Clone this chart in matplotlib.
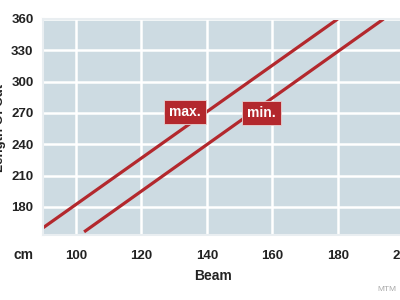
import matplotlib
matplotlib.use("Agg")
import matplotlib.pyplot as plt

plt.rcParams['font.family'] = ['Liberation Sans', 'DejaVu Sans']

# beam (cm) vs length of cut, two limit lines
max_beam = [90, 180]
max_len = [160, 360]
min_beam = [102.5, 194]
min_len = [156, 360]

xticks = [100, 120, 140, 160, 180, 200]
yticks = [180, 210, 240, 270, 300, 330, 360]

red = '#b3282d'
bg = '#cddbe2'
txt = '#222222'

fig = plt.figure(figsize=(4, 3), dpi=100)
fig.patch.set_facecolor('white')
ax = fig.add_axes([0.108, 0.2167, 0.9, 0.72])
ax.set_facecolor(bg)

ax.set_xlim(90, 200)
ax.set_ylim(153, 360)
ax.set_xticks(xticks)
ax.set_yticks(yticks)
ax.grid(True, color='white', linewidth=1.8)
ax.set_axisbelow(True)
for s in ax.spines.values():
    s.set_edgecolor('#e9eef1')
    s.set_linewidth(1.5)
ax.tick_params(length=0, labelsize=9.5, colors=txt)
ax.tick_params(axis='x', pad=11)
ax.tick_params(axis='y', pad=7)
for lab in ax.get_xticklabels() + ax.get_yticklabels():
    lab.set_fontweight('bold')

ax.plot(max_beam, max_len, color=red, linewidth=2.3, solid_capstyle='butt')
ax.plot(min_beam, min_len, color=red, linewidth=2.3, solid_capstyle='butt')

box = dict(boxstyle='square,pad=0.35', facecolor=red, edgecolor='#e8d0d0', linewidth=0.6)
ax.text(133.3, 271, 'max.', color='white', fontsize=10, fontweight='bold',
        ha='center', va='center', bbox=box)
ax.text(156.7, 270, 'min.', color='white', fontsize=10, fontweight='bold',
        ha='center', va='center', bbox=box)

fig.text(0.06, 1 - 255 / 300, 'cm', fontsize=10, fontweight='bold', color=txt,
         ha='center', va='center')
fig.text(213 / 400, 1 - 276 / 300, 'Beam', fontsize=10, fontweight='bold', color=txt,
         ha='center', va='center')
fig.text(0.0, 1 - 128 / 300, 'Length Of Cut', fontsize=9.5, fontweight='bold', color=txt,
         ha='center', va='center', rotation=90)
fig.text(0.968, 0.035, 'MTM', fontsize=6, color='#aaaaaa', ha='center', va='center')

fig.savefig('out.png', dpi=100)
